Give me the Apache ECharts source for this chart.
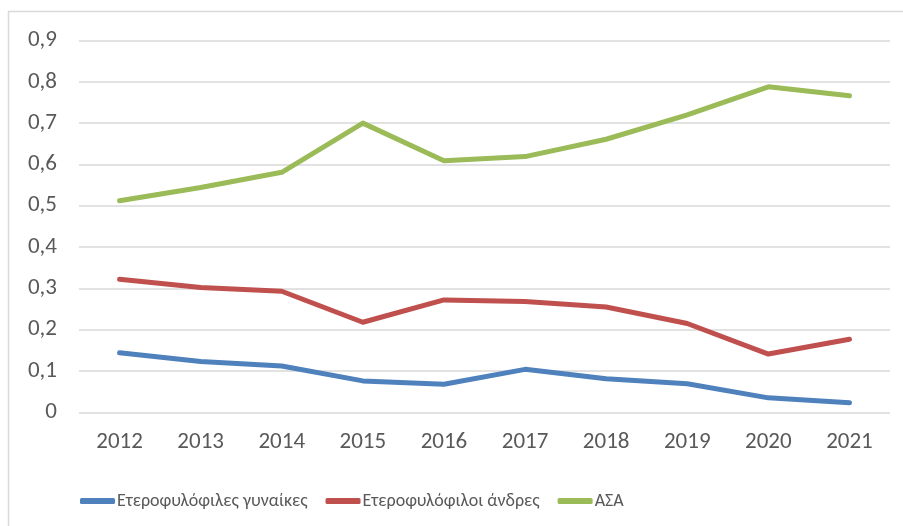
<!DOCTYPE html>
<html>
<head>
<meta charset="utf-8">
<title>Ετεροφυλόφιλοι - ΑΣΑ</title>
<script src="https://cdn.jsdelivr.net/npm/echarts@6/dist/echarts.min.js"></script>
<style>
  html, body { margin: 0; padding: 0; background: #fff; }
  #chart { width: 903px; height: 526px; }
</style>
</head>
<body>
<div id="chart"></div>
<script>
// data
var years = ['2012', '2013', '2014', '2015', '2016', '2017', '2018', '2019', '2020', '2021']
var heteroWomen = [0.144, 0.123, 0.112, 0.076, 0.068, 0.104, 0.081, 0.069, 0.035, 0.023]
var heteroMen = [0.322, 0.302, 0.293, 0.218, 0.272, 0.268, 0.255, 0.215, 0.141, 0.177]
var asa = [0.512, 0.544, 0.581, 0.700, 0.609, 0.619, 0.661, 0.720, 0.788, 0.766]
var seriesNames = ['Ετεροφυλόφιλες γυναίκες', 'Ετεροφυλόφιλοι άνδρες', 'ΑΣΑ']

var font = 'Carlito, "Liberation Sans", sans-serif'
var textColor = '#595959'
var gridColor = '#D9D9D9'

var chart = echarts.init(document.getElementById('chart'))

function lineSeries(name, data, color) {
  return {
    name: name,
    type: 'line',
    data: data,
    symbol: 'none',
    color: color,
    lineStyle: { color: color, width: 5, cap: 'round', join: 'round' },
    animation: false
  }
}

chart.setOption({
  backgroundColor: '#fff',
  animation: false,
  graphic: [{
    type: 'rect',
    shape: { x: 8.5, y: 11.5, width: 905, height: 530 },
    style: { fill: 'none', stroke: gridColor, lineWidth: 1.5 },
    silent: true
  }],
  grid: {
    left: 79,
    right: 13,
    top: 40.5,
    bottom: 113.7,
    containLabel: false
  },
  xAxis: {
    type: 'category',
    data: years,
    boundaryGap: true,
    axisLine: { show: false },
    axisTick: { show: false },
    axisLabel: {
      color: textColor,
      fontFamily: font,
      fontSize: 23,
      margin: 18
    }
  },
  yAxis: {
    type: 'value',
    min: 0,
    max: 0.9,
    interval: 0.1,
    axisLine: { show: false },
    axisTick: { show: false },
    axisLabel: {
      color: textColor,
      fontFamily: font,
      fontSize: 23,
      margin: 22,
      formatter: function (v) {
        return String(Math.round(v * 10) / 10).replace('.', ',')
      }
    },
    splitLine: { lineStyle: { color: gridColor, width: 1.5 } }
  },
  legend: {
    data: seriesNames,
    left: 75,
    top: 487,
    icon: 'roundRect',
    itemWidth: 35,
    itemHeight: 6,
    itemGap: 18,
    textStyle: { color: textColor, fontFamily: font, fontSize: 18, padding: [0, 0, 0, -3] }
  },
  series: [
    lineSeries(seriesNames[0], heteroWomen, '#4F81BD'),
    lineSeries(seriesNames[1], heteroMen, '#C0504D'),
    lineSeries(seriesNames[2], asa, '#9BBB59')
  ]
})
</script>
</body>
</html>
